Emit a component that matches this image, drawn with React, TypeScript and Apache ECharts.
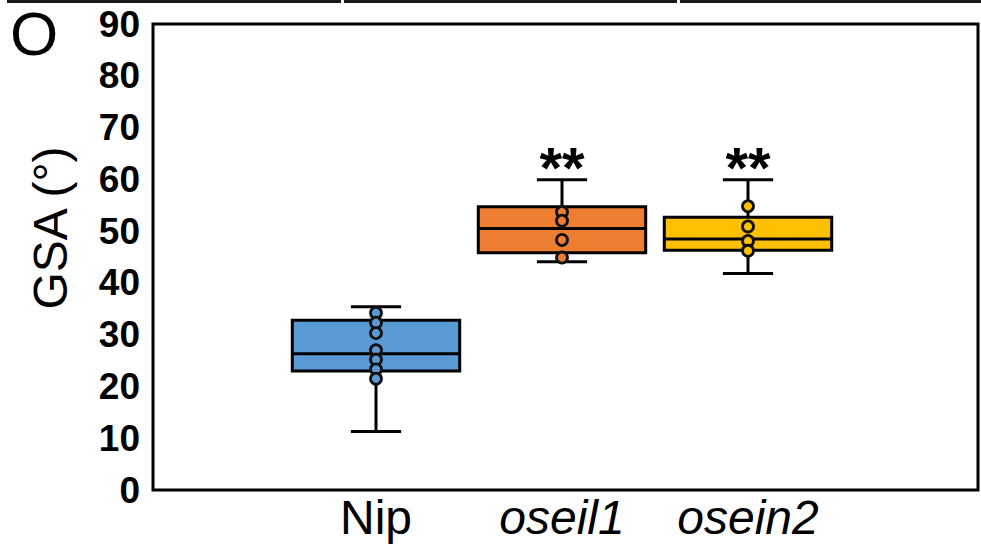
import React, { useEffect, useRef } from "react";
import * as echarts from "echarts";

// ---- data ----
const categories = ["Nip", "oseil1", "osein2"];
const whiskerMin = [11.3, 44.1, 41.8];
const q1Values = [23.0, 45.8, 46.3];
const medianValues = [26.3, 50.5, 48.5];
const q3Values = [32.8, 54.7, 52.7];
const whiskerMax = [35.4, 59.9, 59.9];
const significance = ["", "**", "**"];
const nipPoints = [34.2, 32.3, 30.3, 27.0, 25.2, 23.3, 21.5];
const oseil1Points = [53.7, 52.0, 48.3, 44.9];
const osein2Points = [54.8, 50.9, 48.1, 46.2];
const yTicks = [0, 10, 20, 30, 40, 50, 60, 70, 80, 90];
const yTitle = "GSA (°)";
const panelLetter = "O";

// ---- styles ----
const boxFills = ["#5B9BD5", "#ED7D31", "#FFC000"];
const FONT = 'Arial, "Liberation Sans", Helvetica, sans-serif';

export default function App() {
  const ref = useRef<HTMLDivElement>(null);

  useEffect(() => {
    if (!ref.current) return;
    const chart = echarts.init(ref.current, undefined, { renderer: "svg" });

    const boxData = categories.map((_, i) => [
      i,
      whiskerMin[i],
      q1Values[i],
      medianValues[i],
      q3Values[i],
      whiskerMax[i],
    ]);
    const pointGroups = [nipPoints, oseil1Points, osein2Points];
    const pointData: number[][] = [];
    pointGroups.forEach((g, i) => g.forEach((v) => pointData.push([i, v])));

    const option: any = {
      animation: false,
      backgroundColor: "#ffffff",
      grid: [
        {
          left: 153,
          right: 3,
          top: 24,
          bottom: 60,
          show: true,
          borderColor: "#000",
          borderWidth: 3,
          backgroundColor: "transparent",
          containLabel: false,
          outerBoundsMode: "none",
        },
        {
          left: 283,
          right: 140,
          top: 24,
          bottom: 60,
          containLabel: false,
          outerBoundsMode: "none",
        },
      ],
      xAxis: [
        {
          gridIndex: 0,
          type: "value",
          min: 0,
          max: 1,
          show: false,
        },
        {
          gridIndex: 1,
          type: "category",
          data: categories,
          axisLine: { show: false },
          axisTick: { show: false },
          splitLine: { show: false },
          axisLabel: {
            margin: 4,
            interval: 0,
            formatter: (v: string) => (v === "Nip" ? `{n|${v}}` : `{i|${v}}`),
            rich: {
              n: { fontSize: 48, fontFamily: FONT, color: "#000", lineHeight: 46 },
              i: {
                fontSize: 48,
                fontFamily: FONT,
                fontStyle: "italic",
                color: "#000",
                lineHeight: 46,
              },
            },
          },
        },
      ],
      yAxis: [
        {
          gridIndex: 0,
          type: "value",
          min: yTicks[0],
          max: yTicks[yTicks.length - 1],
          interval: 10,
          axisLine: { show: false },
          axisTick: { show: false },
          splitLine: { show: false },
          axisLabel: {
            margin: 13,
            fontSize: 37,
            fontWeight: "bold",
            fontFamily: FONT,
            color: "#000",
          },
          name: yTitle,
          nameLocation: "middle",
          nameRotate: 90,
          nameGap: 79,
          nameMoveOverlap: false,
          nameTextStyle: {
            fontSize: 48,
            fontFamily: FONT,
            color: "#000",
            padding: [0, 0, 0, 58],
          },
        },
        {
          gridIndex: 1,
          type: "value",
          min: yTicks[0],
          max: yTicks[yTicks.length - 1],
          interval: 10,
          show: false,
        },
      ],
      graphic: [
        { type: "rect", left: 7, top: 0, shape: { width: 334, height: 3 }, style: { fill: "#1a1a1a" } },
        { type: "rect", left: 344, top: 0, shape: { width: 333, height: 3 }, style: { fill: "#1a1a1a" } },
        { type: "rect", left: 680, top: 0, shape: { width: 301, height: 3 }, style: { fill: "#1a1a1a" } },
        {
          type: "text",
          left: 10,
          top: 2,
          style: { text: panelLetter, fontSize: 62, fontFamily: FONT, fill: "#000" },
        },
      ],
      series: [
        {
          type: "custom",
          xAxisIndex: 1,
          yAxisIndex: 1,
          data: boxData,
          encode: { x: 0, y: [1, 2, 3, 4, 5] },
          renderItem: (params: any, api: any) => {
            const idx = api.value(0);
            const band = api.size([1, 0])[0];
            const cx = api.coord([idx, api.value(3)])[0];
            const yMin = api.coord([idx, api.value(1)])[1];
            const yQ1 = api.coord([idx, api.value(2)])[1];
            const yMed = api.coord([idx, api.value(3)])[1];
            const yQ3 = api.coord([idx, api.value(4)])[1];
            const yMax = api.coord([idx, api.value(5)])[1];
            const bw = band * 0.9;
            const cw = band * 0.27;
            const ls = { stroke: "#000", lineWidth: 3 };
            const children: any[] = [
              { type: "line", shape: { x1: cx, y1: yMax, x2: cx, y2: yQ3 }, style: ls },
              { type: "line", shape: { x1: cx, y1: yQ1, x2: cx, y2: yMin }, style: ls },
              { type: "line", shape: { x1: cx - cw / 2, y1: yMax, x2: cx + cw / 2, y2: yMax }, style: ls },
              { type: "line", shape: { x1: cx - cw / 2, y1: yMin, x2: cx + cw / 2, y2: yMin }, style: ls },
              {
                type: "rect",
                shape: { x: cx - bw / 2, y: yQ3, width: bw, height: yQ1 - yQ3 },
                style: { fill: boxFills[params.dataIndex], stroke: "#000", lineWidth: 3 },
              },
              { type: "line", shape: { x1: cx - bw / 2, y1: yMed, x2: cx + bw / 2, y2: yMed }, style: ls },
            ];
            const sig = significance[params.dataIndex];
            if (sig) {
              children.push({
                type: "text",
                x: cx,
                y: yMax + 17,
                style: {
                  text: sig,
                  fontSize: 58,
                  fontWeight: "bold",
                  fontFamily: FONT,
                  fill: "#000",
                  align: "center",
                  verticalAlign: "bottom",
                },
              });
            }
            return { type: "group", children };
          },
          z: 2,
        },
        {
          type: "scatter",
          xAxisIndex: 1,
          yAxisIndex: 1,
          data: pointData,
          symbol: "circle",
          symbolSize: 11,
          itemStyle: {
            color: (p: any) => boxFills[p.data[0]],
            borderColor: "#111",
            borderWidth: 2.8,
            opacity: 1,
          },
          z: 5,
        },
      ],
    };

    chart.setOption(option);
    return () => chart.dispose();
  }, []);

  return (
    <div
      ref={ref}
      style={{ position: "fixed", left: 0, top: 0, width: 981, height: 550, background: "#fff" }}
    />
  );
}
